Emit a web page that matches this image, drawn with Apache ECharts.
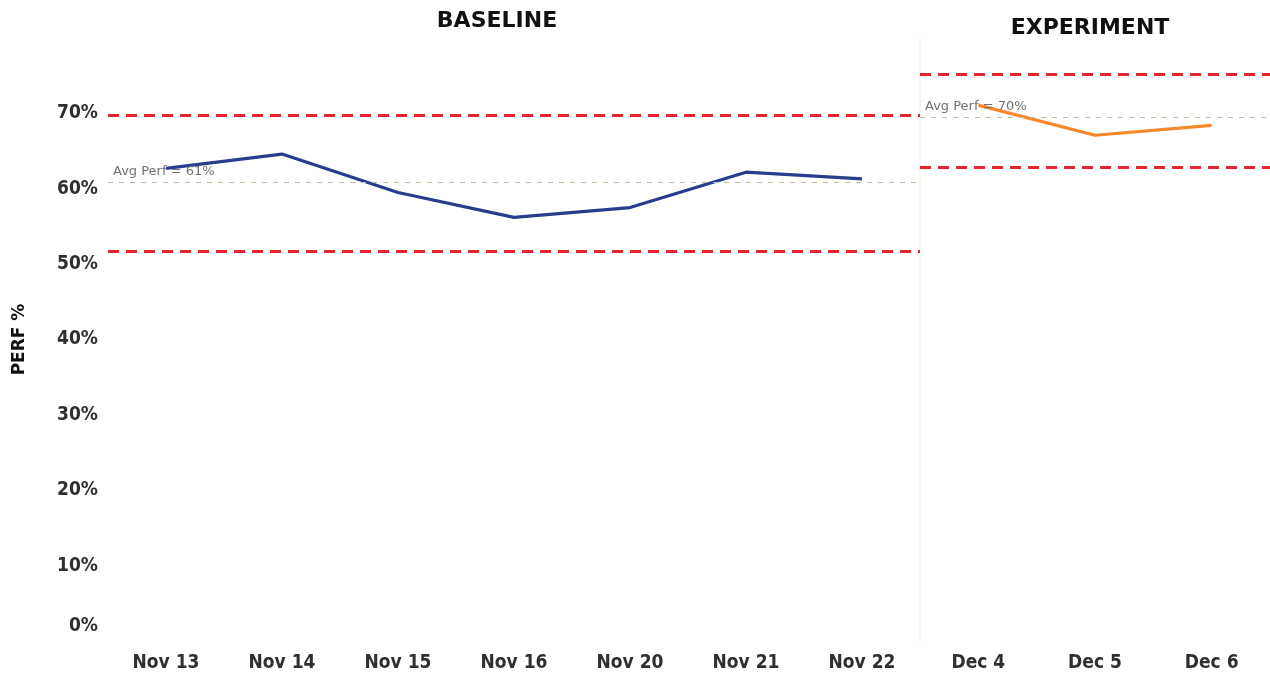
<!DOCTYPE html>
<html>
<head>
<meta charset="utf-8">
<title>PERF % — Baseline vs Experiment</title>
<script src="https://cdn.jsdelivr.net/npm/echarts@6/dist/echarts.min.js"></script>
<style>
  html, body { margin: 0; padding: 0; background: #ffffff; }
  #chart { width: 1270px; height: 681px; }
</style>
</head>
<body>
<div id="chart"></div>
<script>
// Daily performance, baseline period and experiment period
const baselineDays = ['Nov 13', 'Nov 14', 'Nov 15', 'Nov 16', 'Nov 20', 'Nov 21', 'Nov 22'];
const baselinePerf = [62.7, 64.6, 59.5, 56.2, 57.5, 62.2, 61.3];
const experimentDays = ['Dec 4', 'Dec 5', 'Dec 6'];
const experimentPerf = [71.1, 67.1, 68.4];

// Average lines and control limits (lower, upper) for each period
const baselineAvg = 60.9;
const experimentAvg = 69.5;
const baselineLimits = [51.7, 69.7];
const experimentLimits = [62.8, 75.2];

// Y axis ticks (percent)
const yTicks = [0, 10, 20, 30, 40, 50, 60, 70];
const yMax = 80;

const tickFont = {
  fontFamily: "'DejaVu Sans Condensed', 'Roboto', sans-serif",
  fontWeight: 'bold',
  fontSize: 19,
  color: '#2f2f2f'
};

const limitStyle = { color: '#e3262b', type: [11, 7], width: 2.8 };
const avgStyle = { color: '#bdbca0', type: [5, 6], width: 1 };

function avgLabel(value) {
  return 'Avg Perf = ' + Math.round(value) + '%';
}

function markLines(avg, limits) {
  return {
    silent: true,
    symbol: 'none',
    animation: false,
    data: [
      {
        yAxis: avg,
        lineStyle: avgStyle,
        label: {
          show: true,
          position: 'insideStartTop',
          formatter: avgLabel(avg),
          fontFamily: 'DejaVu Sans',
          fontSize: 13,
          color: '#727272',
          distance: [5, 4]
        }
      },
      { yAxis: limits[0], lineStyle: limitStyle, label: { show: false } },
      { yAxis: limits[1], lineStyle: limitStyle, label: { show: false } }
    ]
  };
}

const chart = echarts.init(document.getElementById('chart'), null, { renderer: 'canvas' });

chart.setOption({
  animation: false,
  backgroundColor: '#ffffff',
  title: [
    {
      text: 'BASELINE',
      left: 492, top: 5, textAlign: 'center',
      textStyle: { fontFamily: 'DejaVu Sans', fontWeight: 'bold', fontSize: 22, color: '#111' }
    },
    {
      text: 'EXPERIMENT',
      left: 1085, top: 12, textAlign: 'center',
      textStyle: { fontFamily: 'DejaVu Sans', fontWeight: 'bold', fontSize: 22, color: '#111' }
    }
  ],
  grid: [
    { left: 108, top: 38, width: 812, bottom: 40 },
    { left: 920, top: 38, width: 350, bottom: 40 }
  ],
  xAxis: [
    {
      type: 'category', gridIndex: 0, data: baselineDays, boundaryGap: true,
      axisLine: { show: false }, axisTick: { show: false },
      axisLabel: Object.assign({ margin: 13 }, tickFont)
    },
    {
      type: 'category', gridIndex: 1, data: experimentDays, boundaryGap: true,
      axisLine: { show: false }, axisTick: { show: false },
      axisLabel: Object.assign({ margin: 13 }, tickFont)
    }
  ],
  yAxis: [
    {
      type: 'value', gridIndex: 0, min: 0, max: yMax, interval: 10,
      name: 'PERF %', nameLocation: 'middle', nameGap: 80, nameRotate: 90,
      nameTextStyle: { fontFamily: 'DejaVu Sans', fontWeight: 'bold', fontSize: 17, color: '#111' },
      axisLine: { show: false }, axisTick: { show: false }, splitLine: { show: false },
      axisLabel: Object.assign({
        margin: 10,
        formatter: function (v) {
          if (yTicks.indexOf(v) < 0) return '';
          return v === 0 ? '{zero|' + v + '%}' : v + '%';
        },
        rich: {
          zero: Object.assign({ padding: [0, 0, 30, 0] }, tickFont)
        }
      }, tickFont)
    },
    {
      type: 'value', gridIndex: 1, min: 0, max: yMax, interval: 10,
      axisLine: { show: true, lineStyle: { color: '#f4f2dc', width: 1.5 } },
      axisTick: { show: false }, splitLine: { show: false }, axisLabel: { show: false }
    }
  ],
  series: [
    {
      name: 'Baseline',
      type: 'line', xAxisIndex: 0, yAxisIndex: 0,
      data: baselinePerf,
      symbol: 'none',
      lineStyle: { color: '#283d8c', width: 3.2 },
      markLine: markLines(baselineAvg, baselineLimits)
    },
    {
      name: 'Experiment',
      type: 'line', xAxisIndex: 1, yAxisIndex: 1,
      data: experimentPerf,
      symbol: 'none',
      lineStyle: { color: '#f7882c', width: 3.2 },
      markLine: markLines(experimentAvg, experimentLimits)
    }
  ]
});
</script>
</body>
</html>
